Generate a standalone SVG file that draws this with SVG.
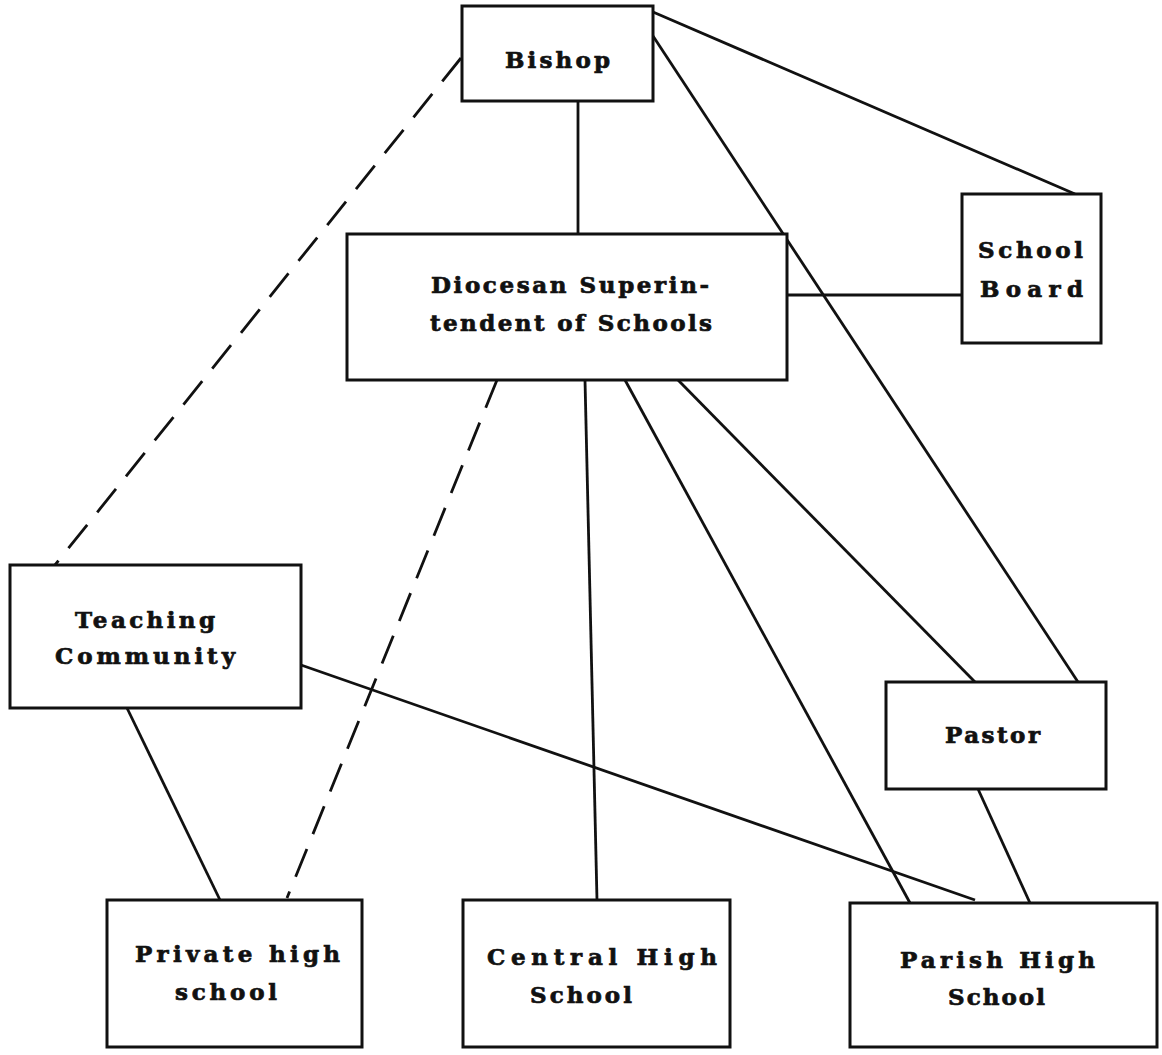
<svg xmlns="http://www.w3.org/2000/svg" width="1162" height="1055" viewBox="0 0 1162 1055">
<style>
.box{fill:#ffffff;stroke:#111;stroke-width:3}
.lbl{font-family:"DejaVu Serif","Liberation Serif",serif;font-weight:bold;font-size:23px;fill:#111;stroke:#111;stroke-width:0.7}
.c{stroke:#111;stroke-width:2.8;fill:none}
.d{stroke:#111;stroke-width:2.8;fill:none;stroke-dasharray:30 16}
</style>
<rect width="1162" height="1055" fill="#ffffff"/>
<g id="connectors">
<line class="c" x1="578" y1="101" x2="578" y2="234"/>
<line class="c" x1="653" y1="12" x2="1075" y2="194"/>
<line class="c" x1="653" y1="36" x2="1078" y2="682"/>
<line class="d" x1="461" y1="58" x2="55" y2="565"/>
<line class="c" x1="787" y1="295" x2="962" y2="295"/>
<line class="d" x1="497" y1="380" x2="287" y2="898"/>
<line class="c" x1="585" y1="380" x2="597" y2="900"/>
<line class="c" x1="625" y1="380" x2="910" y2="903"/>
<line class="c" x1="678" y1="380" x2="975" y2="682"/>
<line class="c" x1="301" y1="665" x2="975" y2="900"/>
<line class="c" x1="127" y1="708" x2="220" y2="900"/>
<line class="c" x1="978" y1="789" x2="1030" y2="903"/>
</g>
<g id="bishop">
<rect class="box" x="462" y="6" width="191" height="95"/>
<text class="lbl" x="505" y="68" textLength="105" lengthAdjust="spacing">Bishop</text>
</g>
<g id="diocesan">
<rect class="box" x="347" y="234" width="440" height="146"/>
<text class="lbl" x="431" y="293" textLength="278" lengthAdjust="spacing">Diocesan Superin-</text>
<text class="lbl" x="430" y="331" textLength="282" lengthAdjust="spacing">tendent of Schools</text>
</g>
<g id="school-board">
<rect class="box" x="962" y="194" width="139" height="149"/>
<text class="lbl" x="978" y="258" textLength="105" lengthAdjust="spacing">School</text>
<text class="lbl" x="980" y="297" textLength="103" lengthAdjust="spacing">Board</text>
</g>
<g id="teaching-community">
<rect class="box" x="10" y="565" width="291" height="143"/>
<text class="lbl" x="75" y="628" textLength="140" lengthAdjust="spacing">Teaching</text>
<text class="lbl" x="55" y="664" textLength="180" lengthAdjust="spacing">Community</text>
</g>
<g id="pastor">
<rect class="box" x="886" y="682" width="220" height="107"/>
<text class="lbl" x="945" y="743" textLength="95" lengthAdjust="spacing">Pastor</text>
</g>
<g id="private-high-school">
<rect class="box" x="107" y="900" width="255" height="147"/>
<text class="lbl" x="135" y="962" textLength="205" lengthAdjust="spacing">Private high</text>
<text class="lbl" x="175" y="1000" textLength="102" lengthAdjust="spacing">school</text>
</g>
<g id="central-high-school">
<rect class="box" x="463" y="900" width="267" height="147"/>
<text class="lbl" x="487" y="965" textLength="230" lengthAdjust="spacing">Central High</text>
<text class="lbl" x="530" y="1003" textLength="102" lengthAdjust="spacing">School</text>
</g>
<g id="parish-high-school">
<rect class="box" x="850" y="903" width="307" height="144"/>
<text class="lbl" x="900" y="968" textLength="195" lengthAdjust="spacing">Parish High</text>
<text class="lbl" x="948" y="1005" textLength="97" lengthAdjust="spacing">School</text>
</g>
</svg>
